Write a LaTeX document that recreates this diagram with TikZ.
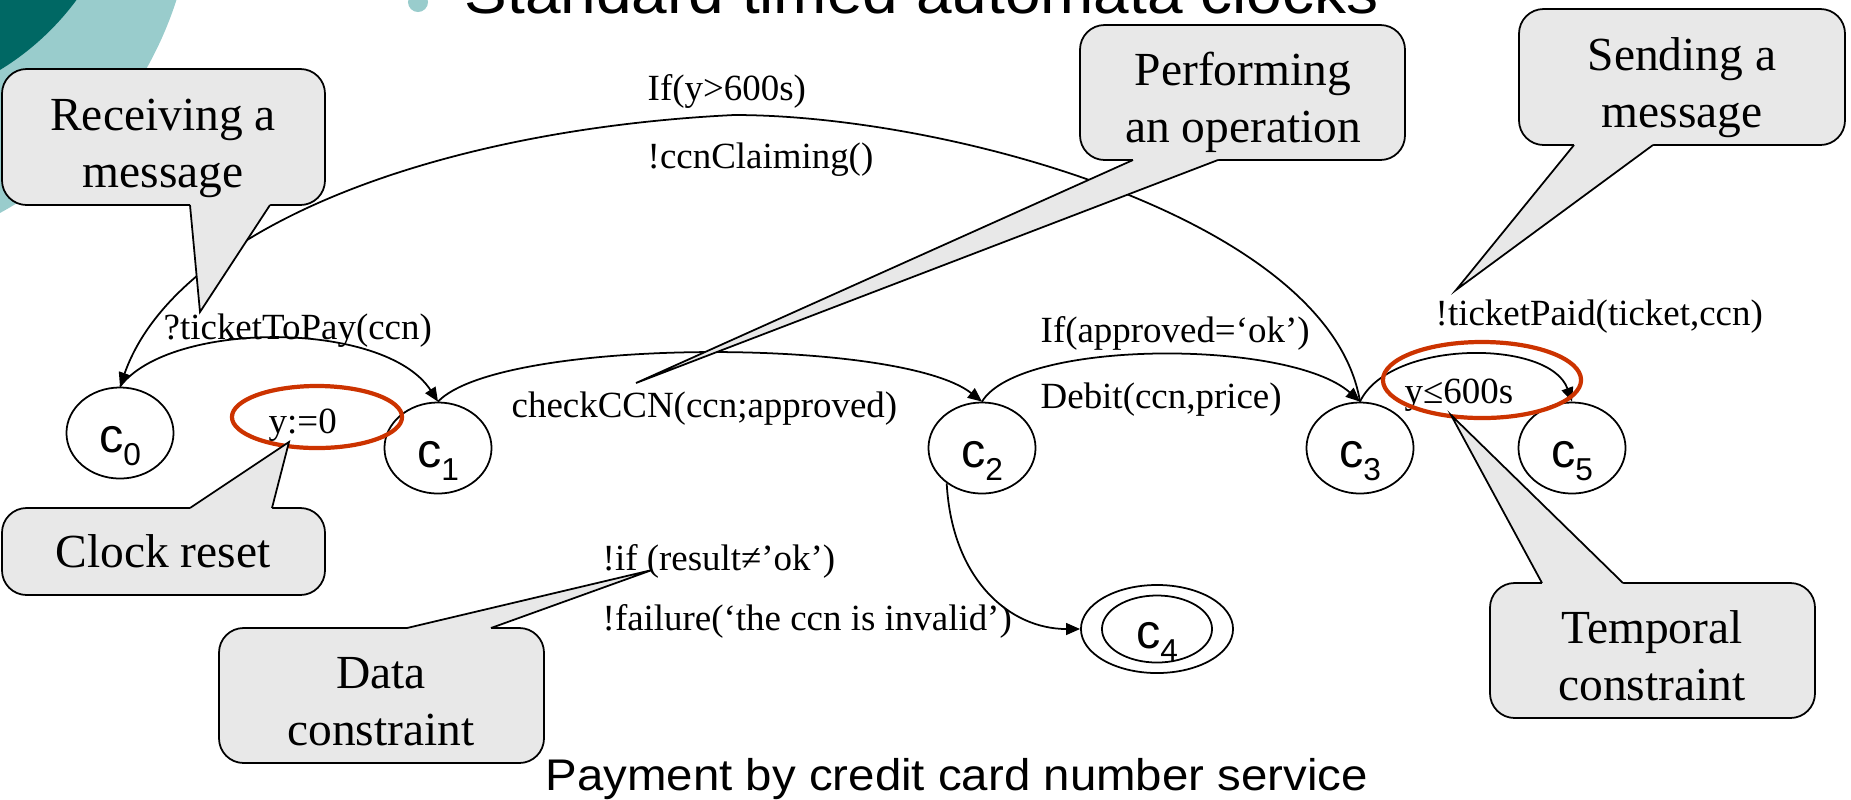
\documentclass[tikz,border=0pt]{standalone}
\usepackage{fontspec}
\setmainfont{Liberation Serif}
\newfontfamily\slidefont[FakeStretch=1.07]{Liberation Sans}
\newfontfamily\statefont{Liberation Sans}
\usepackage{tikz}
\usetikzlibrary{arrows.meta}
\usetikzlibrary{shapes.geometric}
\definecolor{darkteal}{RGB}{0,104,100}
\definecolor{lightteal}{RGB}{153,204,204}
\definecolor{bubblegray}{RGB}{232,232,232}
\definecolor{resetred}{RGB}{204,51,0}
\newcommand{\lowdigit}[1]{\raisebox{-3.7pt}{\fontsize{9}{9}\selectfont #1}}

\begin{document}
\begin{tikzpicture}[x=0.01cm,y=-0.01cm]
\tikzstyle{every node}=[inner sep=0pt]
\tikzstyle{state}=[draw, ellipse, line width=0.5pt, minimum width=1.07cm, minimum height=0.91cm, text height=0.44cm, text depth=0.06cm, font=\statefont\fontsize{13.8}{14}\selectfont]
\tikzstyle{trans}=[line width=0.5pt, ->, >={Triangle[length=4pt,width=3.4pt]}]
\tikzstyle{lbl}=[anchor=base west, font=\fontsize{10.5}{12}\selectfont]
\tikzstyle{bubble}=[draw, fill=bubblegray, line width=0.5pt, rounded corners=7pt]
\tikzstyle{bubbletext}=[align=center, font=\fontsize{13.5}{16.2}\selectfont]
\tikzstyle{clockring}=[draw=resetred, line width=1.2pt]
\clip (0,0) rectangle (1851,799);
\fill[lightteal] (-178,-114) circle [radius=3.72cm];
\fill[darkteal] (-140,-160) circle [radius=2.69cm];
\fill[lightteal] (418,2) circle [radius=0.10cm];
\node[anchor=base west, font=\slidefont\fontsize{17}{20}\selectfont] (title) at (464,13) {Standard timed automata clocks};
\node[anchor=base west, font=\slidefont\fontsize{12.6}{15}\selectfont] (caption) at (545,790) {Payment by credit card number service};
\node[state] (c0) at (120,433) {c\lowdigit{0}};
\node[state] (c1) at (438,448) {c\lowdigit{1}};
\node[state] (c2) at (982,448) {c\lowdigit{2}};
\node[state] (c3) at (1360,448) {c\lowdigit{3}};
\node[state] (c5) at (1572,448) {c\lowdigit{5}};
\node[state, minimum width=1.52cm, minimum height=0.88cm] (c4) at (1157,629) {c\lowdigit{4}};
\draw[line width=0.5pt] (c4.center) ellipse [x radius=0.55cm, y radius=0.335cm];
\coordinate (timeouttop) at (734,115);
\draw[trans] (c3.north) .. controls (1330,220) and (950,115) .. (timeouttop) .. controls (430,130) and (175,230) .. (c0.north);
\draw[trans] (c0.north) .. controls (170,320) and (385,320) .. (c1.north);
\draw[trans] (c1.north) .. controls (500,337) and (900,337) .. (c2.north);
\draw[trans] (c2.north) .. controls (1020,339) and (1290,339) .. (c3.north);
\draw[trans] (c3.north) .. controls (1390,339) and (1550,339) .. (c5.north);
\draw[trans] (c2.225) .. controls (952,580) and (1010,629) .. (c4.west);
\node[lbl] (timeout) at (647,100) {If(y>600s)};
\node[lbl] (claim) at (647,168) {!ccnClaiming()};
\node[lbl] (receive) at (163,339) {?ticketToPay(ccn)};
\node[lbl] (reset) at (268,433) {y:=0};
\node[lbl] (check) at (511,417) {checkCCN(ccn;approved)};
\node[lbl] (approved) at (1040,342) {If(approved=‘ok’)};
\node[lbl] (debit) at (1040,408) {Debit(ccn,price)};
\node[lbl] (paid) at (1435,325) {!ticketPaid(ticket,ccn)};
\node[lbl] (guard) at (1404,403) {y≤600s};
\node[lbl] (notok) at (602,570) {!if (result≠’ok’)};
\node[lbl] (failure) at (602,630) {!failure(‘the ccn is invalid’)};
\draw[clockring] (317,417) ellipse [x radius=0.85cm, y radius=0.31cm];
\draw[clockring] (1482,380) ellipse [x radius=0.99cm, y radius=0.38cm];
\draw[bubble] (2,69) rectangle (325,205);
\fill[bubblegray] (200,312) -- (190,205) -- (190,200) -- (270,200) -- (270,205) -- cycle;
\draw[line width=0.5pt] (190,205) -- (200,312) -- (270,205);
\node[bubbletext] (receiving) at (163,148) {\strut Receiving a\\\strut message};
\draw[bubble] (1080,25) rectangle (1405,160);
\fill[bubblegray] (636,383) -- (1133,160) -- (1133,155) -- (1218,155) -- (1218,160) -- cycle;
\draw[line width=0.5pt] (1133,160) -- (636,383) -- (1218,160);
\node[bubbletext] (performing) at (1243,103) {\strut Performing\\\strut an operation};
\draw[bubble] (1519,9) rectangle (1845,145);
\fill[bubblegray] (1456,290) -- (1574,145) -- (1574,140) -- (1653,140) -- (1653,145) -- cycle;
\draw[line width=0.5pt] (1574,145) -- (1456,290) -- (1653,145);
\node[bubbletext] (sending) at (1682,88) {\strut Sending a\\\strut message};
\draw[bubble] (2,508) rectangle (325,595);
\fill[bubblegray] (289,442) -- (190,508) -- (190,513) -- (272,513) -- (272,508) -- cycle;
\draw[line width=0.5pt] (190,508) -- (289,442) -- (272,508);
\node[bubbletext, anchor=base] (clockreset) at (163,567) {Clock reset};
\draw[bubble] (219,628) rectangle (544,763);
\fill[bubblegray] (652,570) -- (407,628) -- (407,633) -- (491,633) -- (491,628) -- cycle;
\draw[line width=0.5pt] (407,628) -- (652,570) -- (491,628);
\node[bubbletext] (data) at (381,706) {\strut Data\\\strut constraint};
\draw[bubble] (1490,583) rectangle (1815,718);
\fill[bubblegray] (1451,415) -- (1542,583) -- (1542,588) -- (1623,588) -- (1623,583) -- cycle;
\draw[line width=0.5pt] (1542,583) -- (1451,415) -- (1623,583);
\node[bubbletext] (temporal) at (1652,661) {\strut Temporal\\\strut constraint};
\end{tikzpicture}
\end{document}
